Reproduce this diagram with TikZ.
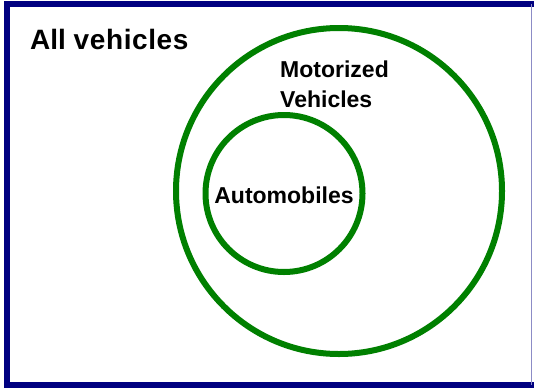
\documentclass[tikz,border=0pt]{standalone}
\usepackage{fontspec}
\setmainfont{Liberation Sans}
\definecolor{framenavy}{RGB}{0,0,128}
\definecolor{setgreen}{RGB}{0,128,0}
\tikzset{
  setline/.style={setgreen,line width=6pt},
  setlabel/.style={font=\fontsize{23}{30}\selectfont\bfseries,inner sep=0pt},
}
\begin{document}
\begin{tikzpicture}[x=1pt,y=-1pt]
                \useasboundingbox (0,0) rectangle (534,388);
                \fill[white] (0,0) rectangle (534,388);
                % frame
                \draw[framenavy,line width=5.5pt] (536,4) -- (7,4) -- (7,385) -- (536,385);
                \draw[framenavy!45,line width=1.5pt] (531.5,4) -- (531.5,385);
                \node[anchor=base west,inner sep=0pt,font=\fontsize{28}{32}\selectfont\bfseries] (all) at (30,49) {All v\kern0.6pt e\kern0.6pt h\kern0.6pt i\kern0.6pt c\kern0.6pt l\kern0.6pt e\kern0.6pt s};
                % sets
                \draw[setline] (339,191) circle (163);
                \draw[setline] (284,193.5) circle (78.5);
                \node[setlabel,anchor=base west,align=left] (motor) at (280,107) {Motorized\\Vehicles};
                \node[setlabel,anchor=base] (auto) at (284,203) {Automobiles};
            \end{tikzpicture}
\end{document}
